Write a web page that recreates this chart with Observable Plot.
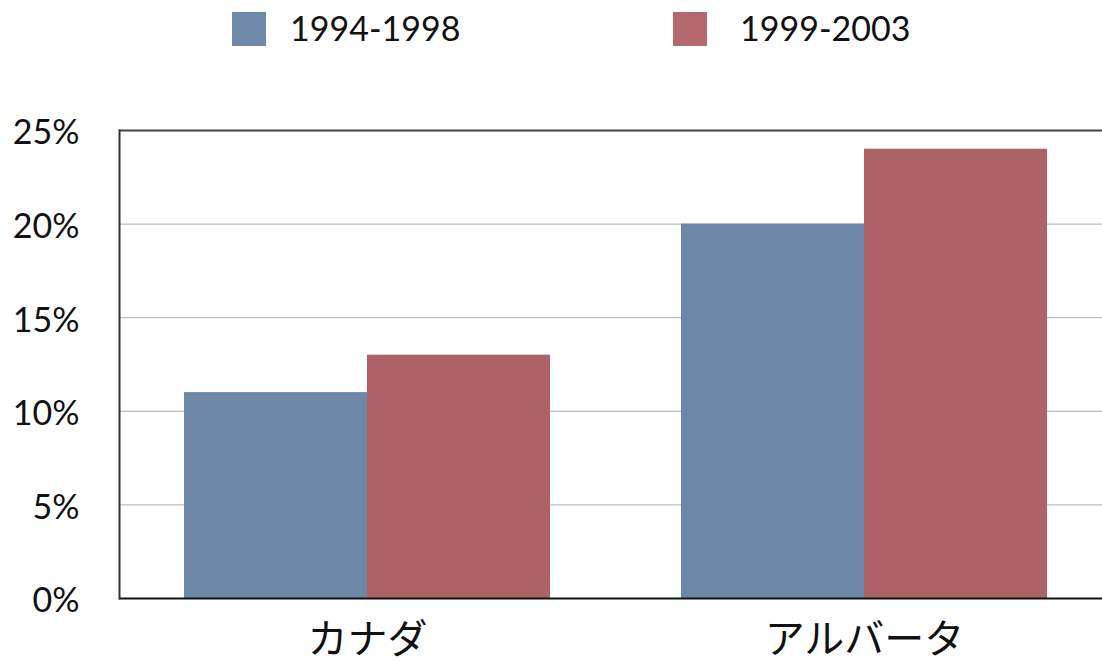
<!DOCTYPE html>
<html>
<head>
<meta charset="utf-8">
<script src="https://cdn.jsdelivr.net/npm/d3@7"></script>
<script src="https://cdn.jsdelivr.net/npm/@observablehq/plot@0.6"></script>
<style>
  body { margin: 0; background: #fff; font-family: Lato, "Noto Sans CJK JP", sans-serif; }
  #legend { position: relative; height: 80px; width: 1102px; }
  .sw { position: absolute; top: 12px; width: 34px; height: 34px; }
  .lb { position: absolute; top: 8px; font-size: 34px; color: #111; line-height: 40px; }
</style>
</head>
<body>
<div id="legend"></div>
<div id="chart"></div>
<script>
const categories = ["カナダ", "アルバータ"];
const series = ["1994-1998", "1999-2003"];
const values1994 = [11, 20];
const values1999 = [13, 24];
const yTicks = [0, 5, 10, 15, 20, 25];
const colors = ["#6d87a9", "#ad6266"];
const legendColors = ["#7089ab", "#b4696d"];

const data = categories.flatMap((c, i) => [
  {category: c, series: series[0], value: values1994[i]},
  {category: c, series: series[1], value: values1999[i]}
]);

// legend
const legend = document.getElementById("legend");
const legendPos = [{sw: 232, lb: 290}, {sw: 673, lb: 740}];
series.forEach((s, i) => {
  const sw = document.createElement("div");
  sw.className = "sw";
  sw.style.left = legendPos[i].sw + "px";
  sw.style.background = legendColors[i];
  legend.appendChild(sw);
  const lb = document.createElement("div");
  lb.className = "lb";
  lb.style.left = legendPos[i].lb + "px";
  lb.textContent = s;
  legend.appendChild(lb);
});

const half = 183;
const chart = Plot.plot({
  width: 1102,
  height: 581,
  marginTop: 50,
  marginBottom: 63,
  marginLeft: 119,
  marginRight: 0,
  style: {fontFamily: "Lato, 'Noto Sans CJK JP', sans-serif", color: "#111", background: "#fff", overflow: "visible"},
  x: {domain: categories, range: [118.5, 1112.5], paddingInner: 0.264, paddingOuter: 0.132, label: null},
  y: {domain: [0, 25], label: null},
  marks: [
    Plot.ruleY(yTicks.filter(t => t > 0 && t < 25), {stroke: "#bdbdbd", strokeWidth: 1.2}),
    Plot.barY(data.filter(d => d.series === series[0]), {
      x: "category", y: "value", fill: colors[0], insetRight: half,
      style: "filter: drop-shadow(1px 0px 1.5px rgba(0,0,0,0.35))"
    }),
    Plot.barY(data.filter(d => d.series === series[1]), {
      x: "category", y: "value", fill: colors[1], insetLeft: half,
      style: "filter: drop-shadow(1px 0px 1.5px rgba(0,0,0,0.35))"
    }),
    Plot.ruleY([25], {stroke: "#444", strokeWidth: 2}),
    Plot.ruleY([0], {stroke: "#111", strokeWidth: 2}),
    Plot.frame({anchor: "left", stroke: "#333", strokeWidth: 2}),
    Plot.axisY({ticks: yTicks, tickFormat: d => d + "%", tickSize: 0, tickPadding: 40, fontSize: 34, dy: 3}),
    Plot.axisX({tickSize: 0, tickPadding: 26, fontSize: 40})
  ]
});
document.getElementById("chart").appendChild(chart);
</script>
</body>
</html>
